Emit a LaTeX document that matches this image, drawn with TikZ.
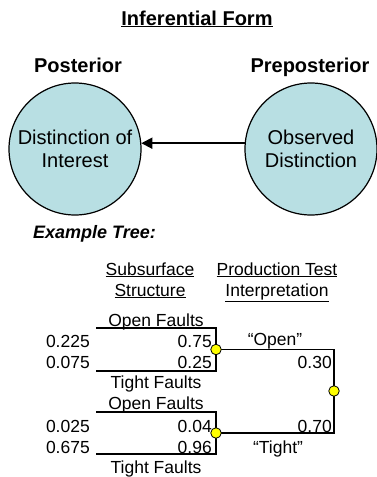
\documentclass[tikz,border=0pt]{standalone}
\usepackage{fontspec}
\setmainfont{Liberation Sans}
\usetikzlibrary{arrows.meta,positioning,calc}
\definecolor{circfill}{RGB}{184,223,227}
\definecolor{dotyellow}{RGB}{255,255,0}

\begin{document}
\begin{tikzpicture}[x=1pt,y=-1pt,
  big/.style={font=\fontsize{20}{23}\selectfont},
  head/.style={font=\fontsize{20}{23}\selectfont\bfseries},
  small/.style={font=\fontsize{17.5}{21}\selectfont, inner sep=0pt},
  bubble/.style={circle,draw,line width=1.2pt,fill=circfill,minimum size=132pt,
    align=center,inner sep=0pt,font=\fontsize{20}{23}\selectfont},
  branch/.style={line width=1.6pt,line cap=rect},
  chance/.style={circle,draw,line width=0.8pt,fill=dotyellow,minimum size=10.5pt,inner sep=0pt}]
\useasboundingbox (0,0) rectangle (377,477);
% heading
\node[head,anchor=base,inner sep=0pt] (title) at (197,25) {\underline{Inferential Form}};
\node[head,anchor=base,inner sep=0pt] (post) at (78,72) {Posterior};
\node[head,anchor=base,inner sep=0pt] (prepost) at (310,72) {Preposterior};
% the two distinctions
\node[bubble] (interest) at (75,149) {Distinction of\\Interest};
\node[bubble] (observed) at (311,149) {Observed\\Distinction};
\draw[line width=1.8pt,-{Triangle[length=11pt,width=11pt]}] (observed.175) -- (interest.5);
% example tree
\node[font=\fontsize{18}{21}\selectfont\bfseries\itshape,anchor=base west,inner sep=0pt]
  (extitle) at (33,238) {Example Tree:};
\node[small,anchor=base] (hsub1) at (150,275) {\underline{Subsurface}};
\node[small,anchor=base] (hsub2) at (150,296) {\underline{Structure}};
\node[small,anchor=base] (hprod1) at (277,275) {\underline{Production Test}};
\node[small,anchor=base] (hprod2) at (277,296) {\underline{Interpretation}};
% branch points
\coordinate (t1) at (97,328);  \coordinate (t2) at (216,328);
\coordinate (t3) at (216,371); \coordinate (t4) at (97,371);
\coordinate (u1) at (97,412);  \coordinate (u2) at (216,412);
\coordinate (u3) at (216,454); \coordinate (u4) at (97,454);
\coordinate (cA) at (216,349.5);
\coordinate (cB) at (216,433);
\coordinate (cR) at (334,391);
\draw[branch] (t1) -- (t2) -- (t3) -- (t4);
\draw[branch] (u1) -- (u2) -- (u3) -- (u4);
\draw[branch] (cA) -- (cA -| cR) -- (cB -| cR) -- (cB);
\node[chance] (openchance) at (cA) {};
\node[chance] (tightchance) at (cB) {};
\node[chance] (testchance) at (cR) {};
% labels
\node[small,anchor=base] (of1) at (156,326) {Open Faults};
\node[small,anchor=base] (tf1) at (156,388) {Tight Faults};
\node[small,anchor=base] (of2) at (156,409) {Open Faults};
\node[small,anchor=base] (tf2) at (156,473) {Tight Faults};
\node[small,anchor=base east] (j1) at (90,347) {0.225};
\node[small,anchor=base east] (j2) at (90,368) {0.075};
\node[small,anchor=base east] (j3) at (90,432) {0.025};
\node[small,anchor=base east] (j4) at (90,453) {0.675};
\node[small,anchor=base east] (p1) at (212,347) {0.75};
\node[small,anchor=base east] (p2) at (212,368) {0.25};
\node[small,anchor=base east] (p3) at (212,432) {0.04};
\node[small,anchor=base east] (p4) at (212,453) {0.96};
\node[small,anchor=base] (sayopen) at (275,345) {“Open”};
\node[small,anchor=base east] (q1) at (332,368) {0.30};
\node[small,anchor=base east] (q2) at (332,432) {0.70};
\node[small,anchor=base] (saytight) at (278,453) {“Tight”};
\end{tikzpicture}
\end{document}
